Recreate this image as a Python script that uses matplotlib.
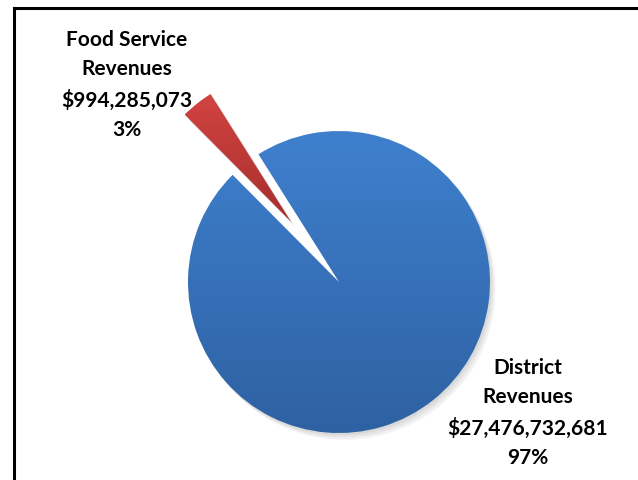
import numpy as np
import matplotlib
matplotlib.use("Agg")
import matplotlib.pyplot as plt
from matplotlib.colors import LinearSegmentedColormap
from matplotlib.patches import Wedge
from matplotlib.lines import Line2D

categories = ["District\nRevenues", "Food Service\nRevenues"]
amounts = [27476732681, 994285073]
pct_labels = ["97%", "3%"]
amount_labels = ["$27,476,732,681", "$994,285,073"]

W, H = 638, 481
CX, CY, R = 339, 283, 151  # pie centre and radius in pixels

fig = plt.figure(figsize=(W / 100, H / 100), dpi=100)
ax = fig.add_axes([0, 0, 1, 1])
ax.set_axis_off()

wedges, _ = ax.pie(amounts, explode=[0.0, 0.51], startangle=134.8,
                   radius=1, center=(0, 0),
                   colors=["#3a75c0", "#c03a36"],
                   wedgeprops=dict(linewidth=0))

grads = [("#2e61a2", "#3f80ce"), ("#a62e2c", "#d24441")]
for w, (c_bot, c_top) in zip(wedges, grads):
    path = w.get_path().transformed(w.get_patch_transform())
    ext = path.get_extents()
    # soft shadow
    for k, a in enumerate([0.05, 0.05, 0.05]):
        sh = Wedge((w.center[0] + 0.012 * (k + 1), w.center[1] - 0.015 * (k + 1)),
                   w.r, w.theta1, w.theta2, facecolor="black", alpha=a,
                   linewidth=0, zorder=0.5)
        ax.add_patch(sh)
    cmap = LinearSegmentedColormap.from_list("g", [c_bot, c_top])
    grad = np.linspace(0, 1, 256).reshape(-1, 1)
    im = ax.imshow(grad, extent=[ext.x0, ext.x1, ext.y0, ext.y1], origin="lower",
                   cmap=cmap, aspect="auto", zorder=2, interpolation="bilinear")
    im.set_clip_path(w)
    w.set_facecolor("none")
    w.set_zorder(3)

ax.set_xlim(-CX / R, (W - CX) / R)
ax.set_ylim(-(H - CY) / R, CY / R)
ax.set_aspect("auto")

def px(x, y):
    return ((x - CX) / R, (CY - y) / R)

font = dict(family=["Lato", "DejaVu Sans"], fontsize=15, fontweight="bold",
            color="black", ha="center", va="center", linespacing=1.6)

lab_pos = [(528, 413), (127, 85)]
for cat, amt, pct, (x, y) in zip(categories, amount_labels, pct_labels, lab_pos):
    tx, ty = px(x, y)
    ax.text(tx, ty, f"{cat}\n{amt}\n{pct}", **font)

# border (top and left edges of chart area)
fig.add_artist(Line2D([14 / W, 1], [1 - 8.5 / H, 1 - 8.5 / H], color="black", lw=2.2,
                      transform=fig.transFigure))
fig.add_artist(Line2D([14 / W, 14 / W], [0, 1 - 8.5 / H], color="black", lw=2.2,
                      transform=fig.transFigure))

fig.savefig("out.png", dpi=100)
